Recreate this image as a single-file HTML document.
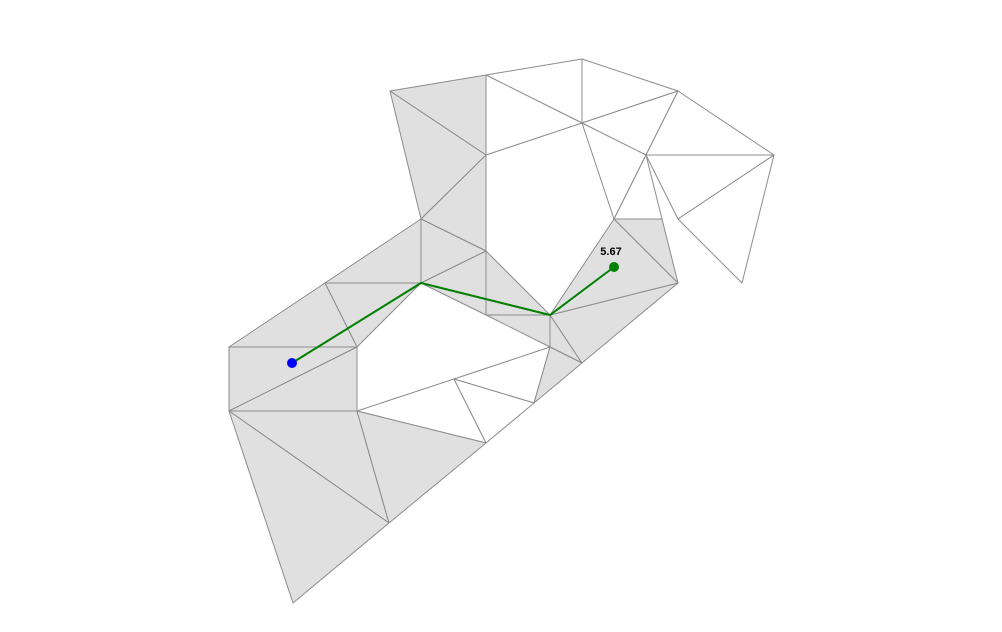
<!DOCTYPE html>
<html><head><meta charset="utf-8"><style>
html,body{margin:0;padding:0;background:#fff;}
svg{display:block;}
</style></head><body>
<svg id="chart" width="1002" height="632" viewBox="0 0 1002 632" xmlns="http://www.w3.org/2000/svg">
<g id="mesh"></g>
<g id="path"></g>
</svg>
<script>
const vertexNames = ["A","B","C","D","E","F","G","H","I","J","K","L","M","N","O","P","Q","R","S","T","U","V","W","X","Y","Z","a","b","c","d"];
const vertexX = [390,486,582,678,774,646,582,486,421,486,421,325,357,229,229,357,486,550,550,582,678,614,662,678,742,454,534,486,389,293];
const vertexY = [91,75,59,91,155,155,123,155,219,251,283,283,347,347,411,411,315,315,347,363,283,219,219,219,283,379,403,443,523,603];
const shadedTriangles = ["ABH","AHI","IHJ","IJK","IKL","LKM","LMN","NMO","OMP","KJQ","JQR","QRS","RST","RTU","RUV","VUW","STa","OPc","Ocd","Pbc"];
const whiteTriangles = ["BCG","BGH","CDG","GDF","GFV","FVW","DEF","FEX","XEY","PZb","ZSa","Zab"];
const pathNodes = ["start","K","R","end"];
const pathX = [292,421,550,614];
const pathY = [363,283,315,267];
const endLabel = "5.67";

const NS="http://www.w3.org/2000/svg";
const mesh=document.getElementById('mesh');
const idx=n=>vertexNames.indexOf(n);
function tri(t,fill){
  const p=document.createElementNS(NS,'polygon');
  p.setAttribute('points',t.split('').map(c=>vertexX[idx(c)]+','+vertexY[idx(c)]).join(' '));
  p.setAttribute('fill',fill);
  p.setAttribute('stroke','#8c8c8c');
  p.setAttribute('stroke-width','1');
  p.setAttribute('stroke-linejoin','round');
  
  
  mesh.appendChild(p);
}
whiteTriangles.forEach(t=>tri(t,'#ffffff'));
shadedTriangles.forEach(t=>tri(t,'#e0e0e0'));

const pg=document.getElementById('path');
const pl=document.createElementNS(NS,'polyline');
pl.setAttribute('points',pathX.map((x,i)=>x+','+pathY[i]).join(' '));
pl.setAttribute('fill','none');pl.setAttribute('stroke','#008000');pl.setAttribute('stroke-width','2');


pg.appendChild(pl);
const s=document.createElementNS(NS,'circle');
s.setAttribute('cx',pathX[0]);s.setAttribute('cy',pathY[0]);s.setAttribute('r','5');s.setAttribute('fill','#0000ff');


pg.appendChild(s);
const n=pathX.length-1;
const e=document.createElementNS(NS,'circle');
e.setAttribute('cx',pathX[n]);e.setAttribute('cy',pathY[n]);e.setAttribute('r','5');e.setAttribute('fill','#008000');


pg.appendChild(e);
const tx=document.createElementNS(NS,'text');
tx.setAttribute('x',pathX[n]-3);tx.setAttribute('y',pathY[n]-12);
tx.setAttribute('text-anchor','middle');
tx.setAttribute('font-family','Liberation Sans, sans-serif');
tx.setAttribute('font-size','11');tx.setAttribute('font-weight','bold');tx.setAttribute('fill','#000');
tx.textContent=endLabel;


pg.appendChild(tx);
</script>
</body></html>
